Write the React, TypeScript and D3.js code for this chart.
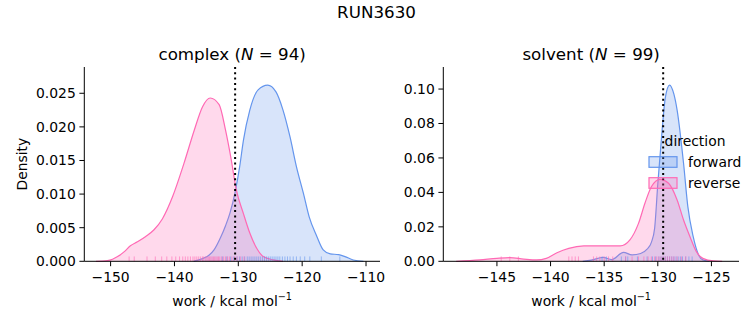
import React from "react";
import * as d3 from "d3";

// ---------- data ----------
const complexForwardX = [-137.0, -135.6, -134.6, -133.8, -132.8, -132.0, -131.3, -130.5, -129.8, -129.2, -128.2, -126.9, -125.4, -124.1, -123.0, -121.9, -120.9, -119.8, -118.9, -117.7, -116.7, -115.6, -114.3, -113.3, -112.0, -110.4];
const complexForwardY = [0, 0.0004, 0.0009, 0.0017, 0.0035, 0.0053, 0.0072, 0.0103, 0.0140, 0.0180, 0.0225, 0.0255, 0.0262, 0.0252, 0.0225, 0.0185, 0.0141, 0.0101, 0.0066, 0.0037, 0.0017, 0.0011, 0.0010, 0.0007, 0.0002, 0];
const complexReverseX = [-152.3, -150.5, -149.7, -148.9, -147.9, -146.9, -145.8, -144.5, -143.2, -141.9, -140.3, -138.5, -136.9, -135.6, -134.4, -133.0, -132.0, -131.2, -130.3, -129.2, -128.2, -127.1, -126.1, -124.5, -123.0];
const complexReverseY = [0, 0.0001, 0.0003, 0.0007, 0.0014, 0.0023, 0.0029, 0.0037, 0.0047, 0.0063, 0.0096, 0.0146, 0.0195, 0.0230, 0.0243, 0.0233, 0.0195, 0.0156, 0.0106, 0.0071, 0.0042, 0.0019, 0.0007, 0.0002, 0];

const solventForwardX = [-137.0, -136.2, -135.1, -134.3, -133.2, -132.4, -131.6, -131.0, -130.6, -130.3, -130.0, -129.6, -129.3, -128.9, -128.5, -128.2, -127.6, -127.2, -126.7, -126.2, -125.8, -125.2];
const solventForwardY = [0, 0.0007, 0.0023, 0.0010, 0.0052, 0.0037, 0.0045, 0.0070, 0.011, 0.019, 0.045, 0.076, 0.095, 0.1023, 0.097, 0.0878, 0.0569, 0.0317, 0.0143, 0.0037, 0.0008, 0];
const solventReverseX = [-148.8, -146.6, -145.0, -143.8, -142.5, -141.3, -140.4, -139.4, -138.3, -136.9, -135.5, -134.5, -133.5, -132.6, -131.8, -131.2, -130.6, -129.8, -129.0, -128.2, -127.6, -127.0, -126.4, -125.8, -124.8, -124.0];
const solventReverseY = [0, 0.0008, 0.0017, 0.0021, 0.0013, 0.0008, 0.0017, 0.005, 0.0075, 0.0089, 0.009, 0.0089, 0.0089, 0.0124, 0.022, 0.0337, 0.0433, 0.0476, 0.0453, 0.0356, 0.024, 0.0143, 0.0056, 0.0017, 0.0002, 0];

const complexForwardRug = [-132.5, -131.8, -131.2, -130.7, -130.2, -129.8, -129.4, -129.0, -128.6, -128.3, -128.0, -127.7, -127.4, -127.1, -126.8, -126.5, -126.2, -125.9, -125.6, -125.3, -125.0, -124.7, -124.4, -124.1, -123.8, -123.5, -123.1, -122.7, -122.3, -121.9, -121.4, -120.9, -120.3, -119.6, -118.8, -117.0, -114.1];
const complexReverseRug = [-147.1, -146.3, -144.3, -143.0, -142.0, -141.2, -140.4, -139.8, -139.2, -138.7, -138.3, -137.9, -137.5, -137.1, -136.8, -136.5, -136.2, -135.9, -135.6, -135.4, -135.1, -134.9, -134.7, -134.5, -134.3, -134.1, -133.9, -133.7, -133.5, -133.3, -133.1, -132.9, -132.6, -132.3, -132.0, -131.7, -131.4, -131.0, -130.6, -130.2, -129.7, -129.1];
const solventForwardRug = [-135.2, -134.8, -133.4, -133.0, -132.8, -131.9, -131.0, -130.5, -130.2, -129.9, -129.7, -129.5, -129.3, -129.1, -128.9, -128.7, -128.5, -128.3, -128.1, -127.9, -127.7, -127.4, -127.1, -126.8];
const solventReverseRug = [-144.6, -143.8, -143.0, -138.3, -138.0, -137.7, -137.4, -136.0, -135.7, -135.4, -135.0, -134.6, -134.2, -133.0, -132.4, -131.8, -131.3, -130.9, -130.6, -130.3, -130.1, -129.9, -129.7, -129.5, -129.3, -129.1, -128.9, -128.7, -128.5, -128.2, -127.8, -127.4];

const complexXTicks = [-150, -140, -130, -120, -110];
const complexYTicks = [0, 0.005, 0.01, 0.015, 0.02, 0.025];
const solventXTicks = [-145, -140, -135, -130, -125];
const solventYTicks = [0, 0.02, 0.04, 0.06, 0.08, 0.1];

const complexVLine = -130.5;
const solventVLine = -129.5;
const directions = ["forward", "reverse"];
const colors = ["#6495ED", "#FF69B4"];

const FONT = "DejaVu Sans, sans-serif";
const minus = (s: string) => s.replace("-", "\u2212");

type PanelProps = {
  left: number; right: number; top: number; bottom: number;
  xDomain: [number, number]; yDomain: [number, number];
  xTicks: number[]; yTicks: number[]; yFmt: string;
  curves: { x: number[]; y: number[] }[];
  rugs: number[][];
  vline: number;
  title: string; n: number; ylabel?: boolean;
};

function Panel(p: PanelProps) {
  const x = d3.scaleLinear().domain(p.xDomain).range([p.left, p.right]);
  const y = d3.scaleLinear().domain(p.yDomain).range([p.bottom, p.top]);
  const fmt = d3.format(p.yFmt);
  const area = d3.area<[number, number]>().x((d) => x(d[0])).y0(y(0)).y1((d) => y(d[1])).curve(d3.curveMonotoneX);
  const line = d3.line<[number, number]>().x((d) => x(d[0])).y((d) => y(d[1])).curve(d3.curveMonotoneX);
  const cx = (p.left + p.right) / 2;
  const rugH = (p.bottom - p.top) * 0.025;
  return (
    <g>
      {p.curves.map((c, i) => {
        const pts = c.x.map((v, k) => [v, c.y[k]] as [number, number]);
        return (
          <g key={i}>
            <path d={area(pts) || ""} fill={colors[i]} fillOpacity={0.25} />
            <path d={line(pts) || ""} fill="none" stroke={colors[i]} strokeWidth={1.2} />
          </g>
        );
      })}
      {p.rugs.map((r, i) => (
        <g key={"r" + i}>
          {r.map((v, k) => (
            <line key={k} x1={x(v)} x2={x(v)} y1={p.bottom} y2={p.bottom - rugH} stroke={colors[i]} strokeOpacity={0.6} strokeWidth={1} />
          ))}
        </g>
      ))}
      <line x1={x(p.vline)} x2={x(p.vline)} y1={p.top} y2={p.bottom} stroke="black" strokeWidth={2} strokeDasharray="2 3.3" />
      {/* spines */}
      <line x1={p.left} x2={p.left} y1={p.top} y2={p.bottom} stroke="black" strokeWidth={1} />
      <line x1={p.left} x2={p.right} y1={p.bottom} y2={p.bottom} stroke="black" strokeWidth={1} />
      {p.xTicks.map((t) => (
        <g key={"x" + t}>
          <line x1={x(t)} x2={x(t)} y1={p.bottom} y2={p.bottom + 4.9} stroke="black" strokeWidth={1} />
          <text x={x(t)} y={p.bottom + 20.5} textAnchor="middle" fontSize={13.9} fontFamily={FONT} fill="#000">{minus(String(t))}</text>
        </g>
      ))}
      {p.yTicks.map((t) => (
        <g key={"y" + t}>
          <line x1={p.left} x2={p.left - 4.9} y1={y(t)} y2={y(t)} stroke="black" strokeWidth={1} />
          <text x={p.left - 8.5} y={y(t) + 5} textAnchor="end" fontSize={13.9} fontFamily={FONT} fill="#000">{fmt(t)}</text>
        </g>
      ))}
      <text x={cx} y={p.bottom + 44.5} textAnchor="middle" fontSize={13.9} fontFamily={FONT} fill="#000">
        work / kcal mol<tspan dy={-6} fontSize={9.7}>{"\u22121"}</tspan>
      </text>
      <text x={cx} y={p.top - 7} textAnchor="middle" fontSize={16.7} fontFamily={FONT} fill="#000">
        {p.title} (<tspan fontStyle="italic">N</tspan> = {p.n})
      </text>
      {p.ylabel && (
        <text transform={`translate(${p.left - 57.5},${(p.top + p.bottom) / 2}) rotate(-90)`} textAnchor="middle" fontSize={13.9} fontFamily={FONT} fill="#000">Density</text>
      )}
    </g>
  );
}

export default function App() {
  return (
    <svg width={753} height={325} style={{ position: "absolute", left: 0, top: 0, background: "#fff" }}>
      <rect width={753} height={325} fill="#fff" />
      <text x={376.5} y={18} textAnchor="middle" fontSize={16.7} fontFamily={FONT} fill="#000">RUN3630</text>
      <Panel left={84.3} right={380} top={67} bottom={261.3}
        xDomain={[-154.12, -107.81]} yDomain={[0, 0.02891]}
        xTicks={complexXTicks} yTicks={complexYTicks} yFmt=".3f"
        curves={[{ x: complexForwardX, y: complexForwardY }, { x: complexReverseX, y: complexReverseY }]}
        rugs={[complexForwardRug, complexReverseRug]} vline={complexVLine}
        title="complex" n={94} ylabel />
      <Panel left={443.3} right={739} top={67} bottom={261.3}
        xDomain={[-150.0, -122.43]} yDomain={[0, 0.1128]}
        xTicks={solventXTicks} yTicks={solventYTicks} yFmt=".2f"
        curves={[{ x: solventForwardX, y: solventForwardY }, { x: solventReverseX, y: solventReverseY }]}
        rugs={[solventForwardRug, solventReverseRug]} vline={solventVLine}
        title="solvent" n={99} />
      {/* legend */}
      <g fontFamily={FONT} fontSize={13.9} fill="#000">
        <text x={695} y={146} textAnchor="middle">direction</text>
        {directions.map((d, i) => (
          <g key={d}>
            <rect x={649} y={156.7 + i * 21} width={28} height={10.6} fill={colors[i]} fillOpacity={0.25} stroke={colors[i]} strokeWidth={1.2} />
            <text x={688} y={166.5 + i * 21}>{d}</text>
          </g>
        ))}
      </g>
    </svg>
  );
}
